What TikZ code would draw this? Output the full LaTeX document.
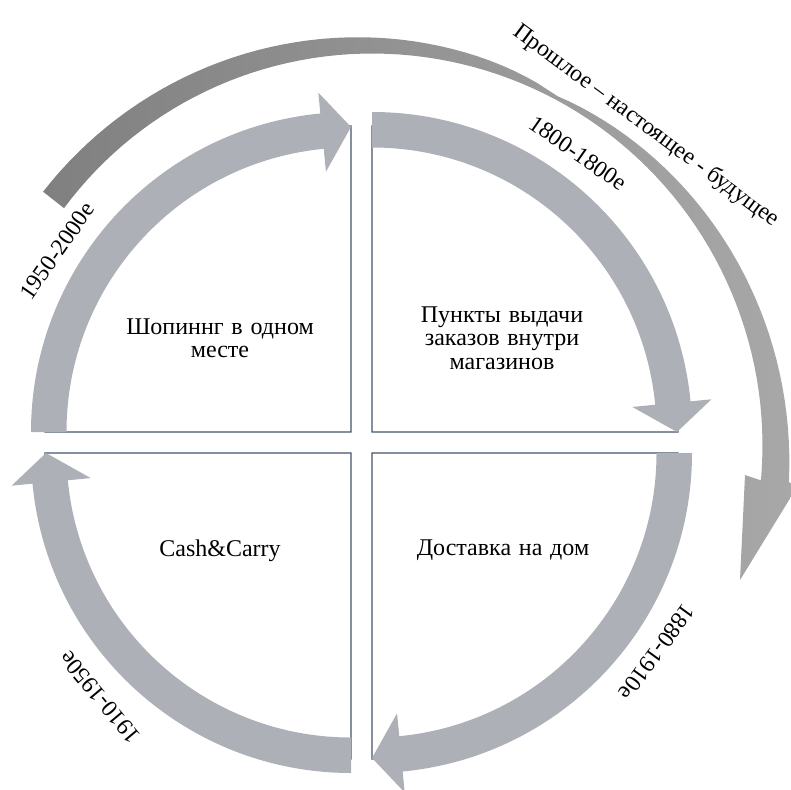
\documentclass[tikz,border=0pt]{standalone}
\usepackage{fontspec}
\setmainfont{Liberation Serif}
\newfontfamily\boxfont{Liberation Serif}[WordSpace=1.3]
\usepackage{xcolor}
\usetikzlibrary{calc}

\definecolor{bandgray}{RGB}{173,176,183}
\definecolor{framegray}{RGB}{68,84,106}
\definecolor{ringdark}{RGB}{128,128,128}
\definecolor{ringlight}{RGB}{168,168,168}

\tikzset{
  quadtext/.style={font=\boxfont\fontsize{24}{23.3}\selectfont, align=center},
  datelabel/.style={font=\fontsize{23.5}{23.5}\selectfont},
  quadframe/.style={draw=framegray, line width=1.2pt},
}

\begin{document}
\begin{tikzpicture}[x=1pt, y=1pt,
    declare function={
        ringin(\a)=397.5-14.5*((\a+5)/146.8)^2;
        ringw(\a)=(\a>62)*(3+23.6*(abs(\a-62)/79.8+0.001)^0.55)+(\a<=62)*(3+25*(abs(62-\a)/67+0.001)^0.8);
    }]
    \useasboundingbox (0,0) rectangle (791,-789);

    % inner corners of the quadrants
    \coordinate (tl) at (351,-432);
    \coordinate (tr) at (372,-432);
    \coordinate (br) at (372,-453);
    \coordinate (bl) at (351,-453);

    % quadrant frames
    \foreach \c/\s in {tl/180, tr/90, br/0, bl/270}
        \draw[quadframe] (\c) -- ++(\s:306) arc[start angle=\s, end angle=\s-90, radius=306] -- cycle;

    % cycle arrows
    \foreach \c/\s in {tl/180, tr/90, br/0, bl/270}
        \fill[bandgray] ($(\c)+(\s:284.5)$) arc[start angle=\s, end angle=\s-84.5, radius=284.5]
            -- ($(\c)+(\s-84.5:261.5)$) -- ($(\c)+(\s-90:305)$) -- ($(\c)+(\s-84.5:341)$)
            -- ($(\c)+(\s-84.5:320)$) arc[start angle=\s-84.5, end angle=\s, radius=320] -- cycle;

    % past - present - future
    \begin{scope}
        \clip (0,0) rectangle (791,-789);
        \begin{scope}[shift={(365,-445)}]
            \shade[left color=ringdark, right color=ringlight]
                plot[domain=141.8:-5, samples=81] (\x:{ringin(\x)+ringw(\x)})
                -- (432,-42) -- (375,-135) -- (380,-30) -- (395,-35)
                -- plot[domain=-5:141.8, samples=81] (\x:{ringin(\x)})
                -- cycle;
        \end{scope}
    \end{scope}

    % quadrant texts
    \node[quadtext] (shop) at (220,-338) {Шопиннг в одном\\месте};
    \node[quadtext] (pickup) at (502,-338) {Пункты выдачи\\заказов внутри\\магазинов};
    \node[quadtext] (cash) at (220,-551) {Cash\&Carry};
    \node[quadtext] (home) at (503,-550) {Доставка на дом};

    % periods
    \node[datelabel, rotate=55] (d1950) at (57,-251) {1950-2000е};
    \node[datelabel, rotate=-35] (d1800) at (578,-153) {1800-1800е};
    \node[datelabel, rotate=-126] (d1880) at (657,-652) {1880-1910е};
    \node[datelabel, rotate=130] (d1910) at (100,-697) {1910-1950е};
    \node[datelabel, rotate=-36.5] (era) at (646,-126) {Прошлое – настоящее - будущее};
\end{tikzpicture}
\end{document}
